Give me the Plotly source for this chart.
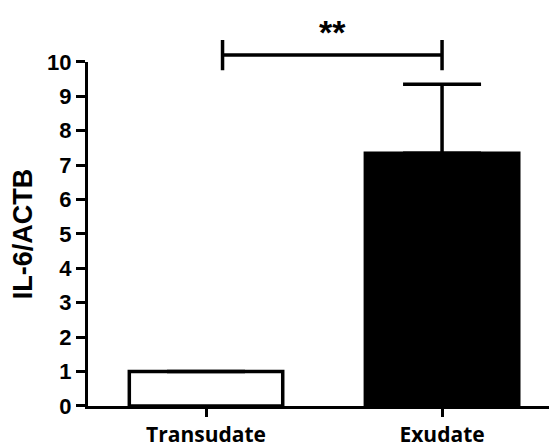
import plotly.graph_objects as go

# ---- data ----
categories = ["Transudate", "Exudate"]
means = [1.0, 7.35]
errors_upper = [0.0, 2.0]
bar_fill = ["white", "black"]
y_ticks = list(range(0, 11))
y_title = "IL-6/ACTB"

# significance bracket (data units on the same scale as the bars)
sig_label = "**"
sig_x = [0.07, 1.0]          # bracket start / end along the category axis
sig_y = 10.2                 # bracket height
sig_tick = 0.44              # half height of end ticks
sig_text_y = 10.87

# ---- layout constants (page body has an 8px default margin) ----
W, H = 549, 434
M_L, M_R, M_T, M_B = 80, 0, 12, 36
Y_MAX = 10
Y_DOMAIN_TOP = 0.8912
X_RANGE = [-0.5, 1.487]

fig = go.Figure()

fig.add_trace(go.Bar(
    x=categories, y=means,
    width=0.65,
    marker=dict(color=bar_fill, line=dict(color="black", width=3.5)),
    error_y=dict(type="data", symmetric=False, array=errors_upper,
                 arrayminus=[0] * len(errors_upper),
                 color="black", thickness=3.5, width=39),
    xaxis="x", yaxis="y", showlegend=False,
))

# bracket on an overlapping, invisible subplot spanning the full height
l, r = sig_x
fig.add_trace(go.Scatter(
    x=[l, l, None, l, r, None, r, r],
    y=[sig_y - sig_tick, sig_y + sig_tick, None, sig_y, sig_y, None,
       sig_y - sig_tick, sig_y + sig_tick],
    mode="lines", line=dict(color="black", width=3.5),
    xaxis="x2", yaxis="y2", showlegend=False, hoverinfo="skip",
))

fig.add_annotation(
    x=(l + r) / 2, y=sig_text_y, xref="x2", yref="y2",
    text=sig_label, showarrow=False,
    font=dict(family="Liberation Sans", size=34, color="black", weight="bold"),
    xanchor="center", yanchor="middle",
)

fig.update_layout(
    width=W, height=H,
    margin=dict(l=M_L, r=M_R, t=M_T, b=M_B, pad=0, autoexpand=False),
    paper_bgcolor="white", plot_bgcolor="rgba(0,0,0,0)",
    bargap=0.34,
    xaxis=dict(
        domain=[0, 1], range=X_RANGE, type="category", automargin=False,
        showline=True, linecolor="black", linewidth=3,
        ticks="outside", ticklen=8, tickwidth=3, tickcolor="black",
        showgrid=False, zeroline=False,
        tickfont=dict(family="Open Sans", size=21, color="black", weight="bold"),
        anchor="y",
    ),
    yaxis=dict(
        domain=[0, Y_DOMAIN_TOP], range=[0, Y_MAX], automargin=False,
        tickvals=y_ticks, ticktext=[str(v) for v in y_ticks],
        showline=True, linecolor="black", linewidth=3,
        ticks="outside", ticklen=9, tickwidth=3, tickcolor="black",
        showgrid=False, zeroline=False,
        tickfont=dict(family="Liberation Sans", size=22, color="black", weight="bold"),
        title=dict(text=y_title, standoff=12,
                   font=dict(family="Liberation Sans", size=27, color="black", weight="bold")),
        anchor="x",
    ),
    xaxis2=dict(domain=[0, 1], range=X_RANGE, visible=False, anchor="y2",
                fixedrange=True),
    yaxis2=dict(domain=[0, 1], range=[0, Y_MAX / Y_DOMAIN_TOP], visible=False,
                anchor="x2", fixedrange=True),
)

fig.write_html("out.html")
